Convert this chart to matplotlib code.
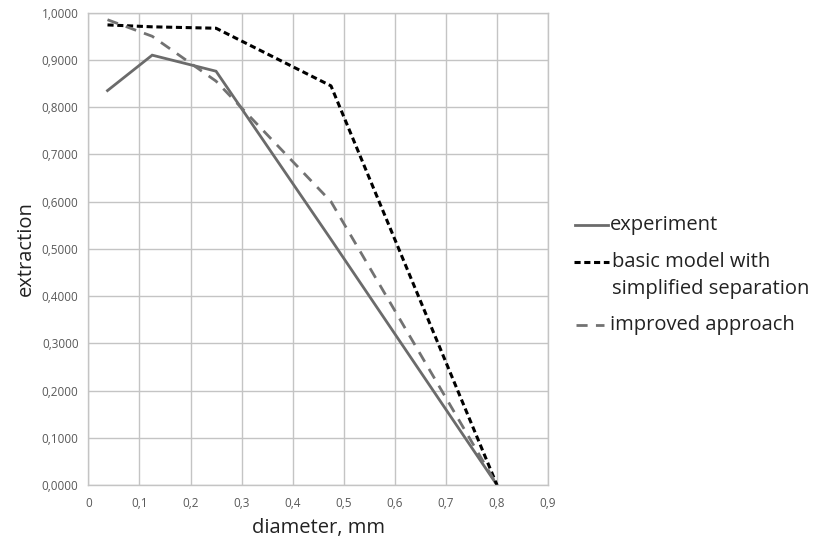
import matplotlib.pyplot as plt
from matplotlib.lines import Line2D
from matplotlib.ticker import FuncFormatter

plt.rcParams['font.family'] = ['Open Sans', 'DejaVu Sans']

# diameter classes, mm
diameter = [0.0375, 0.125, 0.25, 0.475, 0.8]

experiment = [0.835, 0.910, 0.876, 0.520, 0.0]
basic_model = [0.974, 0.970, 0.967, 0.845, 0.0]
improved = [0.985, 0.950, 0.855, 0.600, 0.0]

x_ticks = [0, 0.1, 0.2, 0.3, 0.4, 0.5, 0.6, 0.7, 0.8, 0.9]
y_ticks = [0, 0.1, 0.2, 0.3, 0.4, 0.5, 0.6, 0.7, 0.8, 0.9, 1.0]

fig = plt.figure(figsize=(8.18, 5.38), dpi=100)
ax = fig.add_axes([0.108, 0.0985, 0.562, 0.878])

ax.plot(diameter, experiment, color="#6b6b6b", lw=2.0, solid_joinstyle="miter")
ax.plot(diameter, basic_model, color="black", lw=2.2, dashes=(2.0, 1.2))
ax.plot(diameter, improved, color="#727272", lw=2.0, dashes=(4.0, 3.0))

ax.set_xlim(0, 0.9)
ax.set_ylim(0, 1.0)
ax.set_xticks(x_ticks)
ax.set_yticks(y_ticks)
ax.xaxis.set_major_formatter(FuncFormatter(lambda v, p: "0" if v == 0 else f"{v:.1f}".replace(".", ",")))
ax.yaxis.set_major_formatter(FuncFormatter(lambda v, p: f"{v:.4f}".replace(".", ",")))
ax.tick_params(length=0, labelsize=8.5, labelcolor="#595959")
ax.tick_params(axis="y", pad=7)
ax.tick_params(axis="x", pad=8.5)
ax.grid(True, color="#c4c4c4", lw=1.0)
ax.set_axisbelow(True)
for s in ax.spines.values():
    s.set_color("#c4c4c4")
    s.set_linewidth(1.0)

ax.set_xlabel("diameter, mm", fontsize=14.5, color="#222222", labelpad=6)
ax.set_ylabel("extraction", fontsize=14.5, color="#222222", labelpad=4)

# legend drawn by hand to mimic the original layout
W, H = 818, 538


def fx(px):
    return px / W


def fy(py):
    return 1 - py / H


fs = 14.5
fig.add_artist(Line2D([fx(575), fx(608)], [fy(225), fy(225)], color="#6b6b6b", lw=2.0))
fig.text(fx(610), fy(225), "experiment", fontsize=fs, va="center", color="#222222")
fig.add_artist(Line2D([fx(574), fx(609)], [fy(262), fy(262)], color="black", lw=2.2, dashes=(2.0, 1.2)))
fig.text(fx(612), fy(262), "basic model with", fontsize=fs, va="center", color="#222222")
fig.text(fx(612), fy(289), "simplified separation", fontsize=fs, va="center", color="#222222")
fig.add_artist(Line2D([fx(576), fx(604)], [fy(325), fy(325)], color="#727272", lw=2.0, dashes=(4.0, 3.0)))
fig.text(fx(610), fy(325), "improved approach", fontsize=fs, va="center", color="#222222")

fig.savefig("out.png", dpi=100)
